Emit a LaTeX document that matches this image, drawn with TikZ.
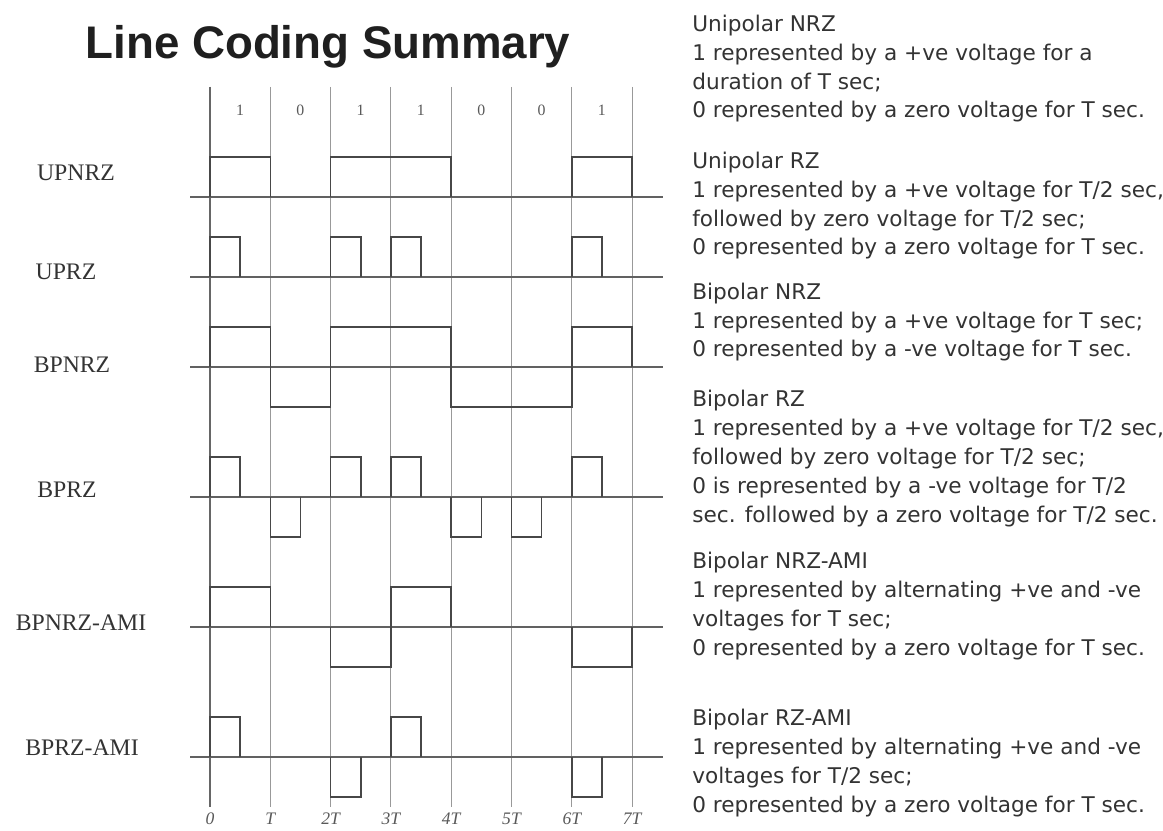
\documentclass[tikz,border=0pt]{standalone}
\usepackage{fontspec}
\setmainfont{Liberation Serif}
\newfontfamily\titlefont{Liberation Sans}
\newfontfamily\notefont{DejaVu Sans}
\usetikzlibrary{positioning}

\begin{document}
\begin{tikzpicture}[
    x=0.02cm,
    y=-0.02cm,
    axisline/.style={draw=black!62, line width=1.2pt},
    gridline/.style={draw=black!40, line width=0.5pt},
    wave/.style={draw=black!72, line width=0.9pt},
    row/.style={shift={(210,#1)}, x=1.206cm, y=0.8cm},
    code/.style={anchor=center, font=\fontsize{13.5}{15}\selectfont, text=black!80},
    bit/.style={font=\fontsize{9}{10}\selectfont, text=black!65},
    note/.style={anchor=base west, align=left, inner sep=0pt,
                 font=\notefont\fontsize{12.3}{16.4}\selectfont, text=black!80}
]
\useasboundingbox[fill=white] (0,0) rectangle (1163,831);

% Title
\node[font=\titlefont\bfseries\fontsize{26}{30}\selectfont, text=black!88] (title) at (328,47) {Line Coding Summary};

% Bit time grid
\foreach \k in {0,...,7} {
  \draw[gridline] ({210+60.3*\k},87) -- ({210+60.3*\k},807);
}
\draw[draw=black!60, line width=0.7pt] (210,87) -- (210,807);
\foreach \k/\b in {0/1,1/0,2/1,3/1,4/0,5/0,6/1} {
  \node[bit] (bit\k) at ({240+60.3*\k},110) {\b};
}
\foreach \k/\t in {0/0,1/T,2/2T,3/3T,4/4T,5/5T,6/6T,7/7T} {
  \node[bit, font=\fontsize{10}{11}\selectfont\itshape] (tick\k) at ({210+60.3*\k},819) {\t};
}

% Zero lines
\foreach \yb in {197,277,367,497,627,757} {
  \draw[axisline] (190,\yb) -- (663,\yb);
}

% Code names
\node[code] (upnrz) at (76,173) {UPNRZ};
\node[code] (uprz) at (66,272) {UPRZ};
\node[code] (bpnrz) at (72,365) {BPNRZ};
\node[code] (bprz) at (67,490) {BPRZ};
\node[code] (bpnrzami) at (81,623) {BPNRZ-AMI};
\node[code] (bprzami) at (82,748) {BPRZ-AMI};

% Waveforms
\begin{scope}[row=197]
  \draw[wave] (0,0) |- (1,1) -- (1,0) (2,0) |- (4,1) -- (4,0) (6,0) |- (7,1) -- (7,0);
\end{scope}
\begin{scope}[row=277]
  \foreach \s in {0,2,3,6} \draw[wave] (\s,0) |- (\s+0.5,1) -- (\s+0.5,0);
\end{scope}
\begin{scope}[row=367]
  \draw[wave] (0,0) |- (1,1) |- (2,-1) |- (4,1) |- (6,-1) |- (7,1) -- (7,0);
\end{scope}
\begin{scope}[row=497]
  \foreach \s/\a in {0/1,1/-1,2/1,3/1,4/-1,5/-1,6/1} \draw[wave] (\s,0) |- (\s+0.5,\a) -- (\s+0.5,0);
\end{scope}
\begin{scope}[row=627]
  \foreach \s/\a in {0/1,2/-1,3/1,6/-1} \draw[wave] (\s,0) |- (\s+1,\a) -- (\s+1,0);
\end{scope}
\begin{scope}[row=757]
  \foreach \s/\a in {0/1,2/-1,3/1,6/-1} \draw[wave] (\s,0) |- (\s+0.5,\a) -- (\s+0.5,0);
\end{scope}

% Descriptions (anchored at the baseline of their last line)
\node[note] (dupnrz) at (692,118) {Unipolar NRZ\\
  1 represented by a +ve voltage for a\\
  duration of T sec;\\
  0 represented by a zero voltage for T sec.};
\node[note] (duprz) at (692,255) {Unipolar RZ\\
  1 represented by a +ve voltage for T/2 sec,\\
  followed by zero voltage for T/2 sec;\\
  0 represented by a zero voltage for T sec.};
\node[note] (dbpnrz) at (692,357) {Bipolar NRZ\\
  1 represented by a +ve voltage for T sec;\\
  0 represented by a -ve voltage for T sec.};
\node[note] (dbprz) at (692,522) {Bipolar RZ\\
  1 represented by a +ve voltage for T/2 sec,\\
  followed by zero voltage for T/2 sec;\\
  0 is represented by a -ve voltage for T/2\\
  sec. followed by a zero voltage for T/2 sec.};
\node[note] (dbpnrzami) at (692,655) {Bipolar NRZ-AMI\\
  1 represented by alternating +ve and -ve\\
  voltages for T sec;\\
  0 represented by a zero voltage for T sec.};
\node[note] (dbprzami) at (692,812) {Bipolar RZ-AMI\\
  1 represented by alternating +ve and -ve\\
  voltages for T/2 sec;\\
  0 represented by a zero voltage for T sec.};
\end{tikzpicture}
\end{document}
